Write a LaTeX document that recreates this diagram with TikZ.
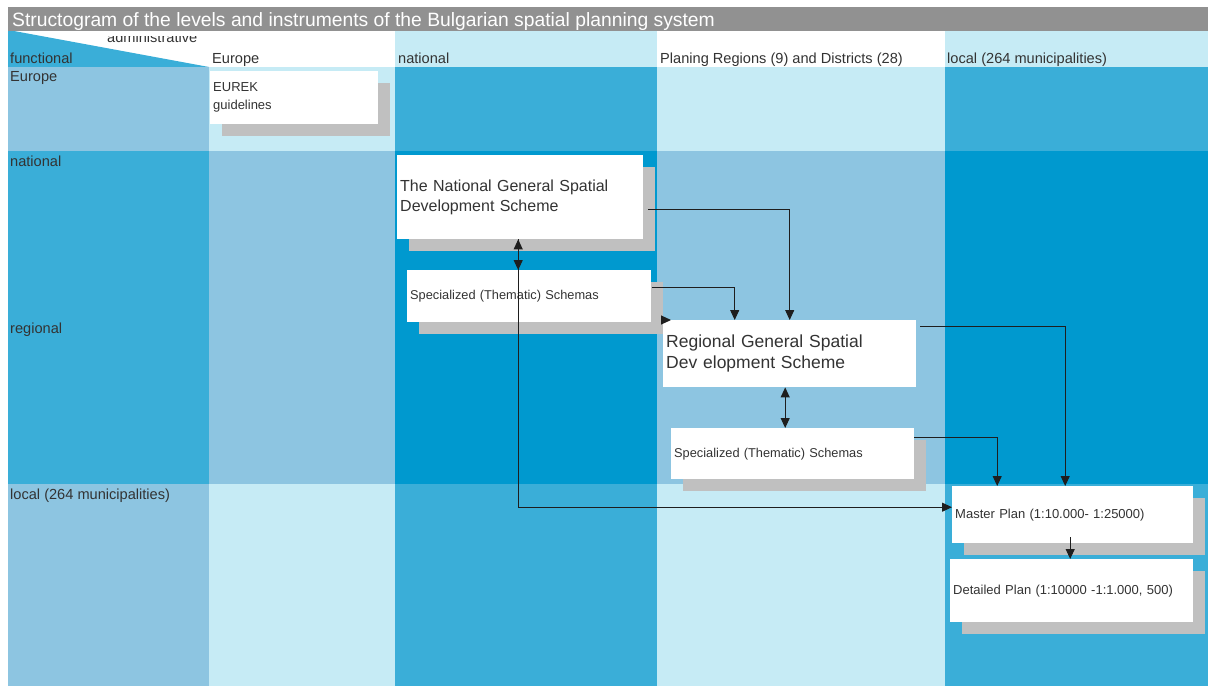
\documentclass[tikz,border=0pt]{standalone}
\usepackage{fontspec}
\setmainfont{Liberation Sans}
\usepackage{tikz}
\usetikzlibrary{arrows.meta,positioning,shadows}
\definecolor{cblight}{HTML}{C6EBF5}
\definecolor{cbmid}{HTML}{8DC5E1}
\definecolor{cbmed}{HTML}{3AAED8}
\definecolor{cbdark}{HTML}{0099CF}
\definecolor{titlegray}{HTML}{919191}
\definecolor{shadowgray}{HTML}{C0C0C0}
\definecolor{txtgray}{HTML}{333333}
\definecolor{linecol}{HTML}{1E1E1E}
\tikzset{
  flowarr/.style={-{Triangle[length=10pt,width=9pt]}, linecol, line width=1pt},
  dblarr/.style={{Triangle[length=10pt,width=9pt]}-{Triangle[length=10pt,width=9pt]}, linecol, line width=1pt},
  planbox/.style={fill=white, anchor=north west, align=left, inner xsep=3pt, inner ysep=0pt, text=txtgray},
  shbox/.style={planbox, general shadow={fill=shadowgray, shadow xshift=12pt, shadow yshift=-11.5pt}},
  lbl/.style={anchor=base west, inner sep=0pt, text=txtgray, font=\fontsize{14.6}{17}\selectfont},
  txtS/.style={font=\fontsize{13}{18}\selectfont},
  txtL/.style={font=\fontsize{16}{20}\selectfont},
}

\begin{document}
\begin{tikzpicture}[x=1pt, y=-1pt]
    \fill[white] (0,0) rectangle (1208,686);
    % header row
    \fill[white] (8,31) rectangle (395,67); \fill[cblight] (395,31) rectangle (657,67);
    \fill[white] (657,31) rectangle (945,67); \fill[cblight] (945,31) rectangle (1208,67);
    \fill[cbmed] (8,31) -- (14,31) -- (209,67) -- (8,67) -- cycle;
    % Europe row
    \fill[cbmid] (8,67) rectangle (209,151); \fill[cblight] (209,67) rectangle (395,151);
    \fill[cbmed] (395,67) rectangle (657,151); \fill[cblight] (657,67) rectangle (945,151);
    \fill[cbmed] (945,67) rectangle (1208,151);
    % national and regional rows
    \fill[cbmed] (8,151) rectangle (209,484); \fill[cbmid] (209,151) rectangle (395,484);
    \fill[cbdark] (395,151) rectangle (657,484); \fill[cbmid] (657,151) rectangle (945,484);
    \fill[cbdark] (945,151) rectangle (1208,484);
    % local row
    \fill[cbmid] (8,484) rectangle (209,686); \fill[cblight] (209,484) rectangle (395,686);
    \fill[cbmed] (395,484) rectangle (657,686); \fill[cblight] (657,484) rectangle (945,686);
    \fill[cbmed] (945,484) rectangle (1208,686);

    \begin{scope}
      \clip (8,36.7) rectangle (209,67);
      \node[lbl] (admin) at (107,42.8) {administrative};
    \end{scope}
    \fill[titlegray] (8,7) rectangle (1208,31);
    \node[anchor=base west, inner sep=0pt, text=white, font=\fontsize{19.3}{22}\selectfont] (title) at (12,26.5)
      {Structogram of the levels and instruments of the Bulgarian spatial planning system};

    % column and row labels
    \node[lbl] (hfunc) at (10,63) {functional};
    \node[lbl] (heu) at (212,63) {Europe};
    \node[lbl] (hnat) at (398,63) {national};
    \node[lbl] (hreg) at (660,63) {Planing Regions (9) and Districts (28)};
    \node[lbl] (hloc) at (947,63) {local (264 municipalities)};
    \node[lbl] (reu) at (10,81) {Europe};
    \node[lbl] (rnat) at (10,166) {national};
    \node[lbl] (rreg) at (10,333) {regional};
    \node[lbl] (rloc) at (10,499) {local (264 municipalities)};

    % instruments
    \node[shbox, txtS, text width=162pt, minimum height=53pt] (eurek) at (210,71) {EUREK\\guidelines};
    \node[shbox, txtL, text width=240pt, minimum height=84pt] (natgen) at (397,155)
      {The National General Spatial\\Development Scheme};
    \node[shbox, font=\fontsize{12.8}{15}\selectfont, text width=238pt, minimum height=52pt] (natspec) at (407,270)
      {Specialized (Thematic) Schemas};
    \node[planbox, font=\fontsize{17.5}{21}\selectfont, text width=247pt, minimum height=67pt] (reggen) at (663,320)
      {Regional General Spatial\\Dev elopment Scheme};
    \node[shbox, font=\fontsize{12.8}{15}\selectfont, text width=237pt, minimum height=51pt] (regspec) at (671,428)
      {Specialized (Thematic) Schemas};
    \node[shbox, txtS, text width=235pt, minimum height=57pt] (master) at (952,486)
      {Master Plan (1:10.000- 1:25000)};
    \node[shbox, txtS, text width=237pt, minimum height=63pt] (detail) at (950,559)
      {Detailed Plan (1:10000 -1:1.000, 500)};

    % connectors
    \draw[flowarr] ([xshift=5pt,yshift=-12pt]natgen.east) -| (reggen.north);
    \draw[flowarr] ([xshift=1pt,yshift=9pt]natspec.east) -| ([xshift=-55pt]reggen.north);
    \draw[flowarr] ([xshift=-2pt]reggen.north west) -- ([xshift=8pt]reggen.north west);
    \draw[dblarr] ([xshift=-2pt]natgen.south) -- ([xshift=-2pt]natgen.south |- natspec.north);
    \draw[flowarr] ([xshift=-2pt]natgen.south) |- ([yshift=7.5pt]master.west);
    \draw[dblarr] ([xshift=-4.5pt]reggen.south) -- ([xshift=-4.5pt]reggen.south |- regspec.north);
    \draw[flowarr] ([xshift=4pt,yshift=27.5pt]reggen.east) -| ([xshift=-7.5pt]master.north);
    \draw[flowarr] ([yshift=16.5pt]regspec.east) -| ([xshift=-75.5pt]master.north);
    \draw[flowarr] ([xshift=-2.5pt,yshift=6pt]master.south) -- ([xshift=-2.5pt]master.south |- detail.north);
  \end{tikzpicture}
\end{document}
